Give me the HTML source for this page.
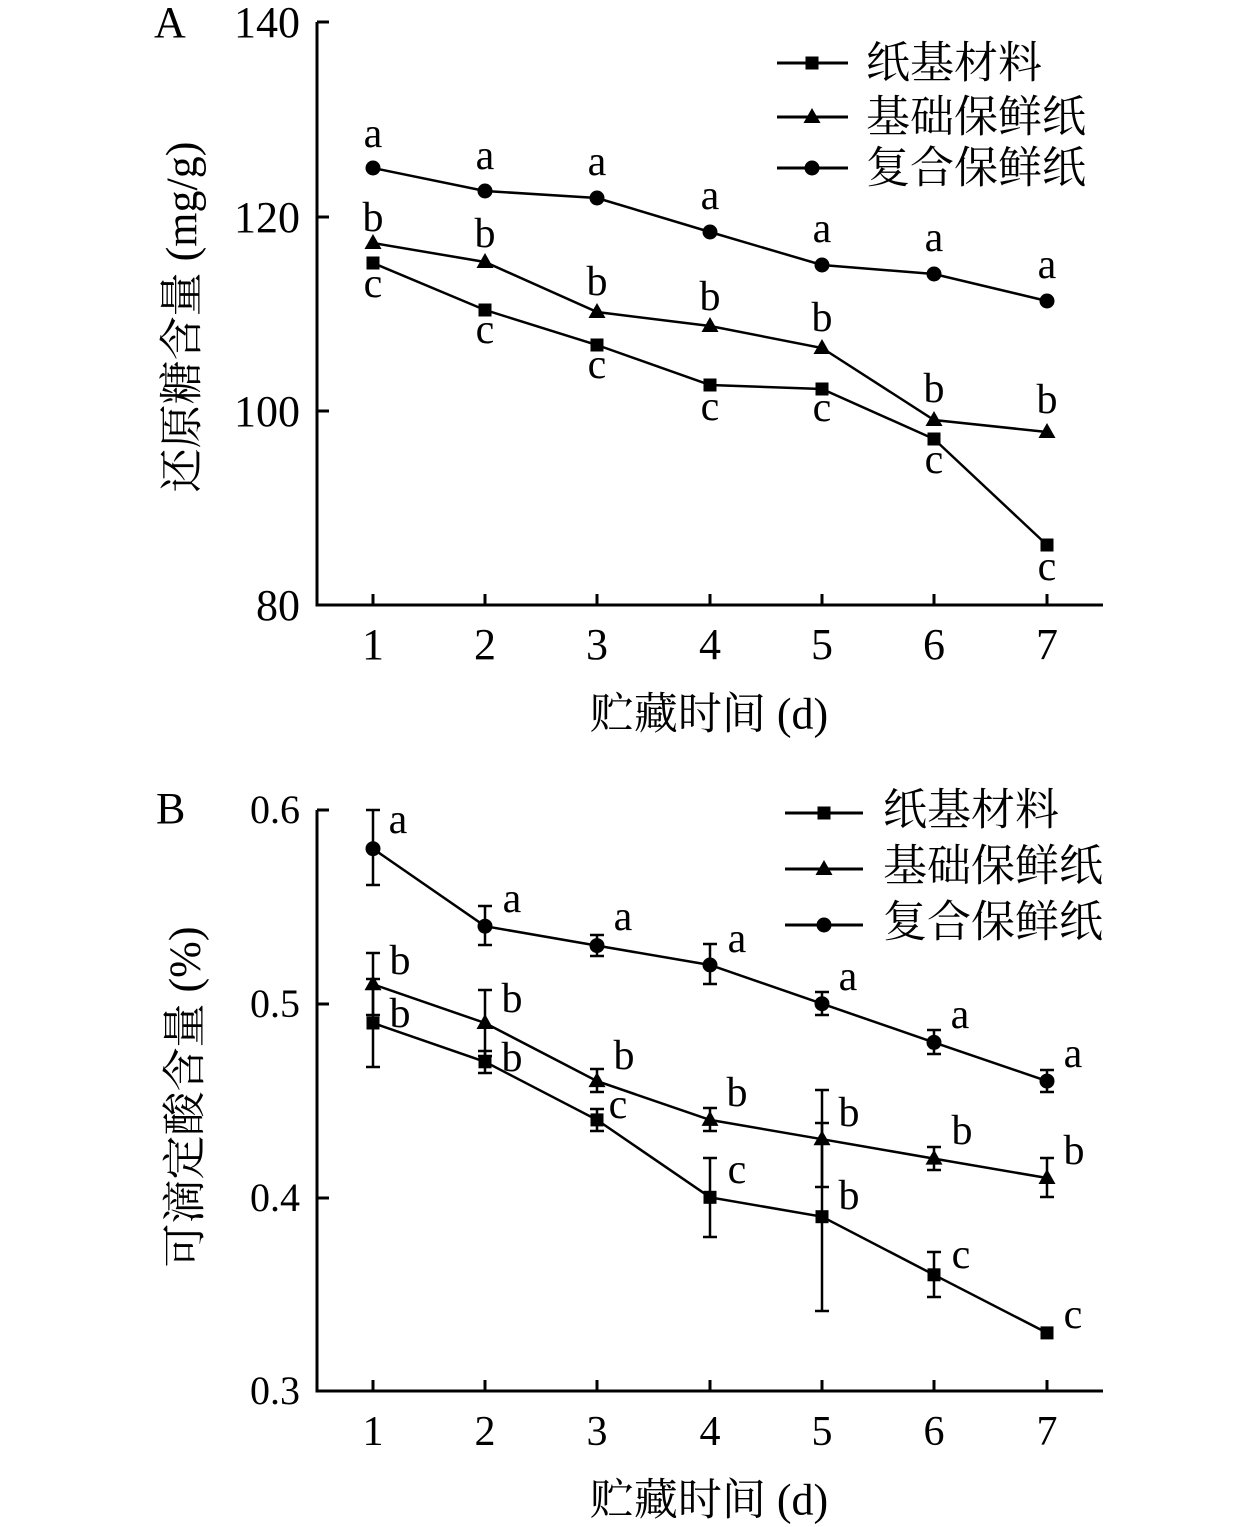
<!DOCTYPE html>
<html><head><meta charset="utf-8"><style>
html,body{margin:0;padding:0;background:#fff;}
svg{display:block;}
text{font-family:"Liberation Serif","Noto Serif CJK SC",serif;fill:#000;}
.cjk{font-family:"Liberation Serif","Noto Serif CJK SC",serif;}
</style></head><body>
<svg width="1260" height="1527" viewBox="0 0 1260 1527" xmlns="http://www.w3.org/2000/svg">
<rect width="1260" height="1527" fill="#fff"/>
<defs>
<rect id="sq" x="-6.5" y="-6.5" width="13" height="13" fill="#000"/>
<polygon id="tr" points="0,-9 8.5,6 -8.5,6" fill="#000"/>
<circle id="ci" r="7.5" fill="#000"/>
</defs>

<!-- ================= PANEL A ================= -->
<g stroke="#000" stroke-width="3" fill="none">
<polyline points="317,22 317,605 1103,605"/>
<line x1="317" y1="22" x2="329" y2="22"/>
<line x1="317" y1="217" x2="329" y2="217"/>
<line x1="317" y1="411" x2="329" y2="411"/>
<line x1="373" y1="605" x2="373" y2="594"/>
<line x1="485" y1="605" x2="485" y2="594"/>
<line x1="597" y1="605" x2="597" y2="594"/>
<line x1="710" y1="605" x2="710" y2="594"/>
<line x1="822" y1="605" x2="822" y2="594"/>
<line x1="934" y1="605" x2="934" y2="594"/>
<line x1="1047" y1="605" x2="1047" y2="594"/>
</g>
<g font-size="44" text-anchor="end">
<text x="300" y="37">140</text>
<text x="300" y="232">120</text>
<text x="300" y="426">100</text>
<text x="300" y="620">80</text>
</g>
<text x="154" y="37" font-size="44">A</text>
<g font-size="44" text-anchor="middle">
<text x="373" y="659">1</text>
<text x="485" y="659">2</text>
<text x="597" y="659">3</text>
<text x="710" y="659">4</text>
<text x="822" y="659">5</text>
<text x="934" y="659">6</text>
<text x="1047" y="659">7</text>
</g>
<text x="709" y="714" font-size="44" text-anchor="middle" dominant-baseline="central" class="cjk">贮藏时间 (d)</text>
<text x="0" y="0" font-size="44" text-anchor="middle" dominant-baseline="central" class="cjk" transform="translate(182,317) rotate(-90)">还原糖含量 (mg/g)</text>

<g stroke="#000" stroke-width="2.5" fill="none">
<polyline points="373,168 485,191 597,198 710,232 822,265 934,274 1047,301"/>
<polyline points="373,243 485,262 597,312 710,326 822,348 934,420 1047,432"/>
<polyline points="373,263 485,310 597,345 710,385 822,389 934,439 1047,545"/>
</g>
<g>
<use href="#ci" x="373" y="168"/><use href="#ci" x="485" y="191"/><use href="#ci" x="597" y="198"/><use href="#ci" x="710" y="232"/><use href="#ci" x="822" y="265"/><use href="#ci" x="934" y="274"/><use href="#ci" x="1047" y="301"/>
<use href="#tr" x="373" y="243"/><use href="#tr" x="485" y="262"/><use href="#tr" x="597" y="312"/><use href="#tr" x="710" y="326"/><use href="#tr" x="822" y="348"/><use href="#tr" x="934" y="420"/><use href="#tr" x="1047" y="432"/>
<use href="#sq" x="373" y="263"/><use href="#sq" x="485" y="310"/><use href="#sq" x="597" y="345"/><use href="#sq" x="710" y="385"/><use href="#sq" x="822" y="389"/><use href="#sq" x="934" y="439"/><use href="#sq" x="1047" y="545"/>
</g>
<g font-size="42" text-anchor="middle">
<text x="373" y="147">a</text><text x="485" y="169">a</text><text x="597" y="175">a</text><text x="710" y="209">a</text><text x="822" y="242">a</text><text x="934" y="251">a</text><text x="1047" y="278">a</text>
<text x="373" y="231">b</text><text x="485" y="247">b</text><text x="597" y="295">b</text><text x="710" y="310">b</text><text x="822" y="331">b</text><text x="934" y="402">b</text><text x="1047" y="413">b</text>
<text x="373" y="297">c</text><text x="485" y="343">c</text><text x="597" y="378">c</text><text x="710" y="420">c</text><text x="822" y="421">c</text><text x="934" y="473">c</text><text x="1047" y="580">c</text>
</g>
<!-- legend A -->
<g stroke="#000" stroke-width="3">
<line x1="777" y1="63" x2="848" y2="63"/>
<line x1="777" y1="117" x2="848" y2="117"/>
<line x1="777" y1="168" x2="848" y2="168"/>
</g>
<use href="#sq" x="812" y="63"/>
<use href="#tr" x="812" y="117"/>
<use href="#ci" x="812" y="168"/>
<g font-size="44" dominant-baseline="central" class="cjk">
<text x="866" y="63">纸基材料</text>
<text x="866" y="117">基础保鲜纸</text>
<text x="866" y="168">复合保鲜纸</text>
</g>

<!-- ================= PANEL B ================= -->
<g stroke="#000" stroke-width="3" fill="none">
<polyline points="317,810 317,1391 1103,1391"/>
<line x1="317" y1="810" x2="329" y2="810"/>
<line x1="317" y1="1004" x2="329" y2="1004"/>
<line x1="317" y1="1198" x2="329" y2="1198"/>
<line x1="373" y1="1391" x2="373" y2="1380"/>
<line x1="485" y1="1391" x2="485" y2="1380"/>
<line x1="597" y1="1391" x2="597" y2="1380"/>
<line x1="710" y1="1391" x2="710" y2="1380"/>
<line x1="822" y1="1391" x2="822" y2="1380"/>
<line x1="934" y1="1391" x2="934" y2="1380"/>
<line x1="1047" y1="1391" x2="1047" y2="1380"/>
</g>
<g font-size="40" text-anchor="end">
<text x="300" y="823">0.6</text>
<text x="300" y="1017">0.5</text>
<text x="300" y="1211">0.4</text>
<text x="300" y="1404">0.3</text>
</g>
<text x="156" y="823" font-size="44">B</text>
<g font-size="42" text-anchor="middle">
<text x="373" y="1445">1</text>
<text x="485" y="1445">2</text>
<text x="597" y="1445">3</text>
<text x="710" y="1445">4</text>
<text x="822" y="1445">5</text>
<text x="934" y="1445">6</text>
<text x="1047" y="1445">7</text>
</g>
<text x="709" y="1500" font-size="44" text-anchor="middle" dominant-baseline="central" class="cjk">贮藏时间 (d)</text>
<text x="0" y="0" font-size="44" text-anchor="middle" dominant-baseline="central" class="cjk" transform="translate(185,1097) rotate(-90)">可滴定酸含量 (%)</text>

<!-- error bars -->
<g stroke="#000" stroke-width="2.5" fill="none">
<path d="M373,810V885M366,810H380M366,885H380"/>
<path d="M485,906V945M478,906H492M478,945H492"/>
<path d="M597,935V956M590,935H604M590,956H604"/>
<path d="M710,944V984M703,944H717M703,984H717"/>
<path d="M822,992V1015M815,992H829M815,1015H829"/>
<path d="M934,1030V1054M927,1030H941M927,1054H941"/>
<path d="M1047,1070V1092M1040,1070H1054M1040,1092H1054"/>

<path d="M373,953V1015M366,953H380M366,1015H380"/>
<path d="M485,990V1056M478,990H492M478,1056H492"/>
<path d="M597,1069V1092M590,1069H604M590,1092H604"/>
<path d="M710,1108V1131M703,1108H717M703,1131H717"/>
<path d="M822,1090V1187M815,1090H829M815,1187H829"/>
<path d="M934,1147V1170M927,1147H941M927,1170H941"/>
<path d="M1047,1158V1197M1040,1158H1054M1040,1197H1054"/>

<path d="M373,979V1067M366,979H380M366,1067H380"/>
<path d="M485,1051V1073M478,1051H492M478,1073H492"/>
<path d="M597,1109V1131M590,1109H604M590,1131H604"/>
<path d="M710,1158V1237M703,1158H717M703,1237H717"/>
<path d="M822,1123V1311M815,1123H829M815,1311H829"/>
<path d="M934,1252V1297M927,1252H941M927,1297H941"/>
</g>
<g stroke="#000" stroke-width="2.5" fill="none">
<polyline points="373,848.7 485,926.2 597,945.6 710,965 822,1003.7 934,1042.4 1047,1081.1"/>
<polyline points="373,984.3 485,1023 597,1081.1 710,1119.9 822,1139.2 934,1158.6 1047,1178"/>
<polyline points="373,1023 485,1061.8 597,1119.9 710,1197.3 822,1216.7 934,1274.8 1047,1332.9"/>
</g>
<g>
<use href="#ci" x="373" y="848.7"/><use href="#ci" x="485" y="926.2"/><use href="#ci" x="597" y="945.6"/><use href="#ci" x="710" y="965"/><use href="#ci" x="822" y="1003.7"/><use href="#ci" x="934" y="1042.4"/><use href="#ci" x="1047" y="1081.1"/>
<use href="#tr" x="373" y="984.3"/><use href="#tr" x="485" y="1023"/><use href="#tr" x="597" y="1081.1"/><use href="#tr" x="710" y="1119.9"/><use href="#tr" x="822" y="1139.2"/><use href="#tr" x="934" y="1158.6"/><use href="#tr" x="1047" y="1178"/>
<use href="#sq" x="373" y="1023"/><use href="#sq" x="485" y="1061.8"/><use href="#sq" x="597" y="1119.9"/><use href="#sq" x="710" y="1197.3"/><use href="#sq" x="822" y="1216.7"/><use href="#sq" x="934" y="1274.8"/><use href="#sq" x="1047" y="1332.9"/>
</g>
<g font-size="42" text-anchor="middle">
<text x="398" y="833">a</text><text x="512" y="912">a</text><text x="623" y="930">a</text><text x="737" y="952">a</text><text x="848" y="990">a</text><text x="960" y="1028">a</text><text x="1073" y="1067">a</text>
<text x="400" y="974">b</text><text x="512" y="1012">b</text><text x="624" y="1069">b</text><text x="737" y="1106">b</text><text x="849" y="1126">b</text><text x="962" y="1144">b</text><text x="1074" y="1164">b</text>
<text x="400" y="1027">b</text><text x="512" y="1071">b</text><text x="618" y="1118">c</text><text x="737" y="1183">c</text><text x="849" y="1209">b</text><text x="961" y="1268">c</text><text x="1073" y="1328">c</text>
</g>
<!-- legend B -->
<g stroke="#000" stroke-width="3">
<line x1="785" y1="813" x2="863" y2="813"/>
<line x1="785" y1="869" x2="863" y2="869"/>
<line x1="785" y1="925" x2="863" y2="925"/>
</g>
<use href="#sq" x="824" y="813"/>
<use href="#tr" x="824" y="869"/>
<use href="#ci" x="824" y="925"/>
<g font-size="44" dominant-baseline="central" class="cjk">
<text x="883" y="810">纸基材料</text>
<text x="883" y="866">基础保鲜纸</text>
<text x="883" y="922">复合保鲜纸</text>
</g>
</svg>
</body></html>
